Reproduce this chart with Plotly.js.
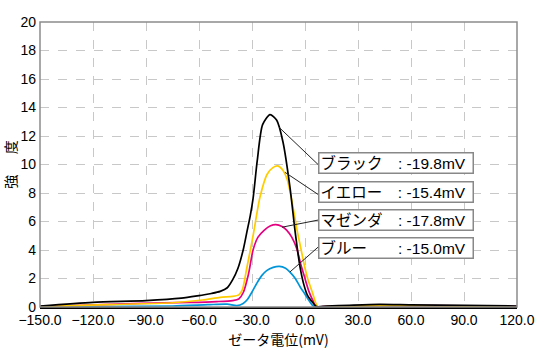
<!DOCTYPE html>
<html><head><meta charset="utf-8">
<script src="https://cdn.plot.ly/plotly-3.0.1.min.js"></script>
<style>html,body{margin:0;padding:0;background:#fff}#chart{width:540px;height:358px}</style>
</head><body><div id="chart"></div>
<script>
// Zeta potential distribution (強度 vs ゼータ電位 mV)
var blackX = [-150,-120,-90,-70,-60,-57,-53,-48,-44,-41,-38,-35,-33,-31,-29.4,-27,-24,-19.8,-16,-12.5,-8.5,-5.5,-2.8,-0.5,1.5,4.5,6.5,12,25,42,60,90,120];
var blackY = [0.07,0.33,0.45,0.62,0.8,0.86,0.95,1.1,1.35,1.9,2.7,4.0,5.2,6.4,7.6,10.3,12.8,13.5,13.1,11.6,8.4,5.2,2.8,1.5,0.8,0.3,0.03,0.06,0.12,0.18,0.15,0.12,0.07];
var yellowX = [-150,-112,-75,-58,-48,-41,-37.5,-35.5,-33,-29.4,-25.5,-21.5,-18,-15.4,-12.5,-10.2,-7.5,-4.5,-2.5,-0.5,1.5,4.5,6,7.4,12,45,90,120];
var yellowY = [0.02,0.16,0.3,0.49,0.68,0.74,0.85,1.2,2.7,5.0,7.7,9.3,9.8,9.9,9.6,9.0,7.5,5.4,4.2,3.0,2.0,0.9,0.3,0.0,0.02,0.1,0.06,0.0];
var magentaX = [-150,-139,-93,-65,-50,-41,-37.5,-35,-32,-29.4,-26.6,-23,-19.5,-16.5,-13,-10.4,-7.5,-4.7,-2.4,0,2.2,4.5,6.6,10,45,90,120];
var magentaY = [0.02,0.07,0.26,0.32,0.38,0.45,0.56,1.0,2.3,4.0,4.9,5.4,5.7,5.78,5.65,5.4,4.9,4.1,3.0,2.0,1.1,0.45,0.0,0.02,0.1,0.08,0.03];
var blueX = [-150,-120,-75,-55,-44,-38.5,-35,-32.5,-30,-27.3,-24.5,-21.7,-18,-14.5,-11,-8.5,-5.5,-2.8,0,2,4,5.7,10,60,120];
var blueY = [0.0,0.02,0.07,0.16,0.2,0.1,0.25,0.55,1.05,1.66,2.2,2.55,2.78,2.85,2.72,2.45,2.0,1.42,0.9,0.5,0.15,0.0,0.0,0.0,0.0];

var seriesNames = ['ブラック','イエロー','マゼンダ','ブルー'];
var labelTexts = ['ブラック\u3000: -19.8mV','イエロー\u3000: -15.4mV','マゼンダ\u3000: -17.8mV','ブルー\u3000\u3000: -15.0mV'];
var colors = ['#000000','#ffcc00','#e4007f','#0095d9'];

var xs = [blackX, yellowX, magentaX, blueX];
var ys = [blackY, yellowY, magentaY, blueY];
var order = [3,2,1,0];
var traces = order.map(function(i){
  return {x: xs[i], y: ys[i], type:'scatter', mode:'lines', name: seriesNames[i],
          line:{color: colors[i], width:1.7, shape:'spline', smoothing:0.7}, hoverinfo:'skip'};
});

// connector geometry (curve point -> label box), layout positions
var conn = [
  {cx:-14.6, cy:12.6, bx:7.4, by:10.0},
  {cx:-11.3, cy:9.45, bx:7.4, by:7.9},
  {cx:-13.0, cy:5.6, bx:7.4, by:6.1},
  {cx:-8.5, cy:2.46, bx:7.4, by:4.2}
];
var boxY = [10.1, 8.05, 6.1, 4.15];

var shapes = [{type:'rect', xref:'paper', yref:'paper', x0:0, x1:1, y0:0, y1:1,
  line:{color:'#8c8c8c', width:1.5}, layer:'above'}];
conn.forEach(function(c){
  shapes.push({type:'line', xref:'x', yref:'y', x0:c.cx, y0:c.cy, x1:c.bx, y1:c.by,
    line:{color:'#222', width:1}});
});
var annotations = labelTexts.map(function(t, i){
  return {xref:'x', yref:'y', x:7.4, y:boxY[i], xanchor:'left', yanchor:'middle',
    text:t, showarrow:false, align:'left', width:151, height:17, borderpad:1,
    bordercolor:'#888', borderwidth:1.5, bgcolor:'#ffffff',
    font:{size:15.5, color:'#000', family:'Liberation Sans, Noto Sans CJK JP, sans-serif'}};
});

var layout = {
  width:540, height:358,
  margin:{l:40, r:23, t:22, b:51},
  paper_bgcolor:'#fff', plot_bgcolor:'#fff',
  showlegend:false,
  font:{family:'Liberation Sans, Noto Sans CJK JP, sans-serif', color:'#000', size:14},
  xaxis:{range:[-150,120], tickmode:'linear', tick0:-150, dtick:30, tickformat:'.1f',
    showgrid:true, gridcolor:'#c8c8c8', griddash:'dash', gridwidth:1, zeroline:false,
    showline:true, linecolor:'#000', linewidth:1.5, ticks:'',
    tickfont:{size:14}, title:{text:'ゼータ電位(mV)', font:{size:14, family:'Noto Sans CJK JP, sans-serif'}, standoff:8}},
  yaxis:{range:[0,20], tickmode:'linear', tick0:0, dtick:2,
    showgrid:true, gridcolor:'#c8c8c8', griddash:'dash', gridwidth:1, zeroline:false,
    showline:false, ticks:'', tickfont:{size:14}, ticklabelstandoff:3,
    title:{text:'強\u3000\u00a0\u00a0度\u3000', font:{size:14, family:'Noto Sans CJK JP, sans-serif'}, standoff:3}},
  shapes: shapes,
  annotations: annotations
};
Plotly.newPlot('chart', traces, layout, {displayModeBar:false, staticPlot:true});
</script></body></html>
